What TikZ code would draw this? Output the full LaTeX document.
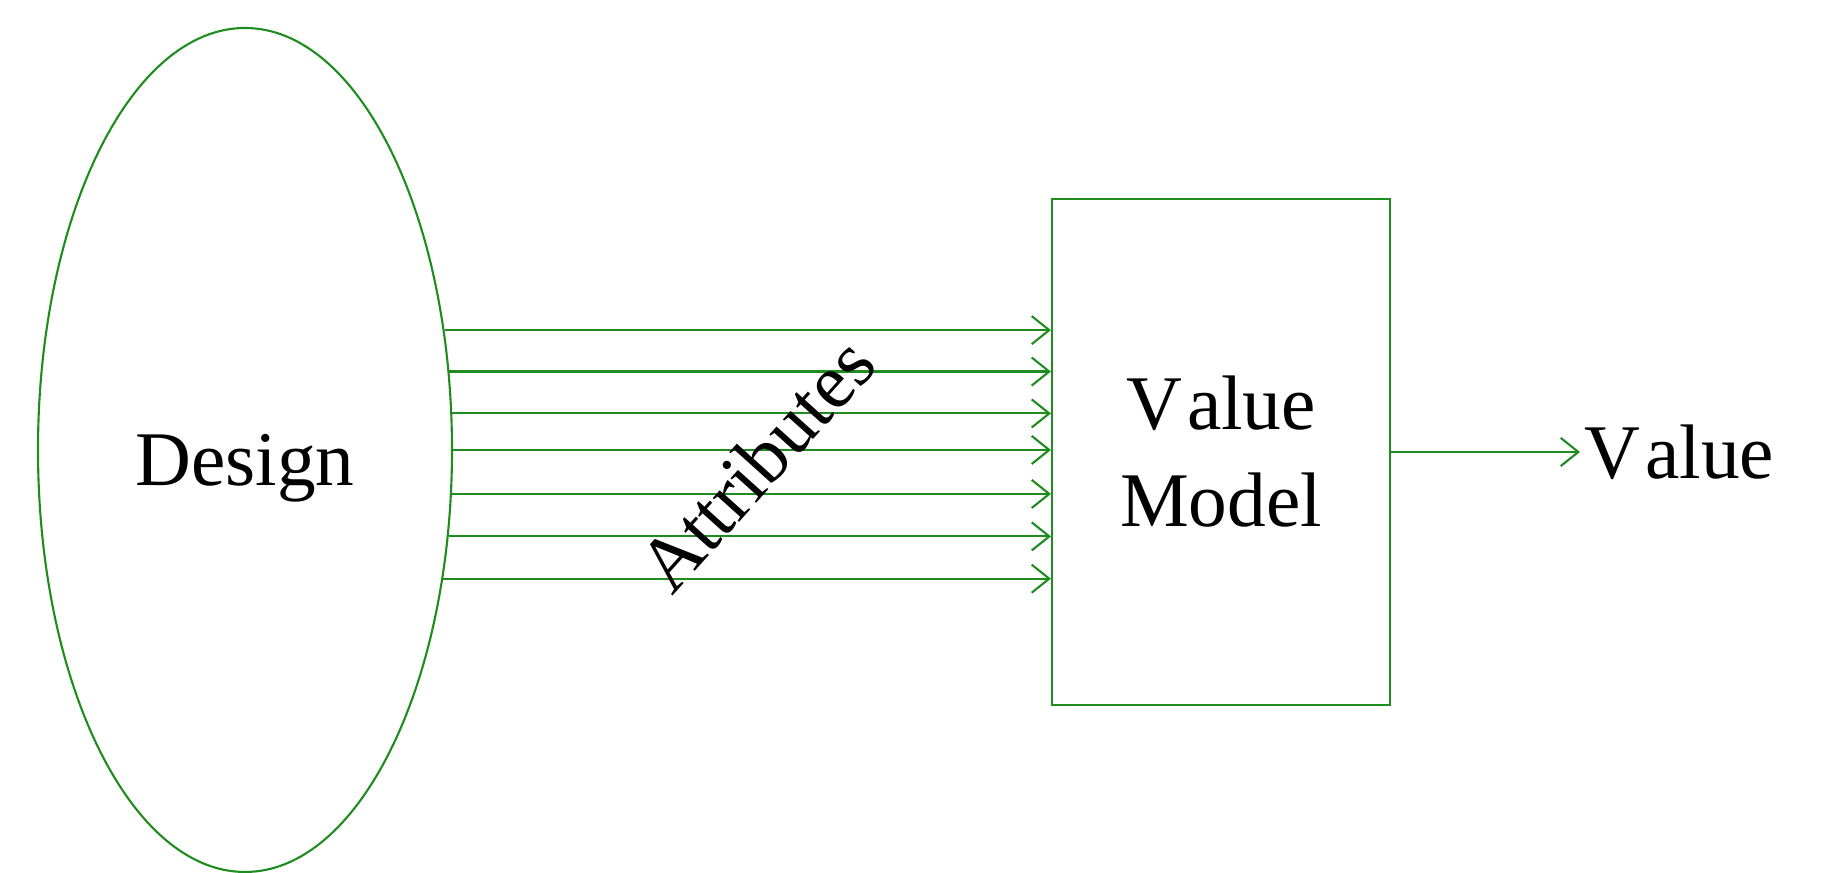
\documentclass[tikz,border=0pt]{standalone}
\usepackage{fontspec}
\setmainfont{Liberation Serif}
\usetikzlibrary{arrows.meta,shapes.geometric}
\definecolor{vmgreen}{RGB}{30,140,30}
\begin{document}
\begin{tikzpicture}[>={Straight Barb[length=5pt,width=8pt]},
    every node/.style={font=\fontsize{22}{27.6}\selectfont},
    vmline/.style={draw=vmgreen,line width=0.6pt}]
    \useasboundingbox (0,0) rectangle (18.23,8.73);
    \node[vmline,ellipse,minimum width=4.14cm,minimum height=8.44cm,inner sep=0pt] (design) at (2.45,4.23) {};
    \node (designtxt) at (2.45,4.05) {Design};
    \node[vmline,minimum width=3.38cm,minimum height=5.06cm,align=center] (model) at (12.21,4.21) {V\kern1.5pt alue\\Model};
    \node[anchor=west,inner sep=1pt] (value) at (15.80,4.21) {V\kern1.5pt alue};
    \foreach \i in {-3,...,3}{
        \pgfmathsetmacro\ang{atan2(\i*0.42-0.03,2.07*sqrt(1-((\i*0.42-0.03)/4.22)^2))}
        \draw[vmgreen,line width=0.6pt,->](design.\ang)--(design.\ang -| model.west);
    }
    \draw[vmgreen,line width=0.6pt,->](model.east)--(value.west);
    \node[rotate=48] (attr) at (7.56,4.09){Attributes};
\end{tikzpicture}
\end{document}
